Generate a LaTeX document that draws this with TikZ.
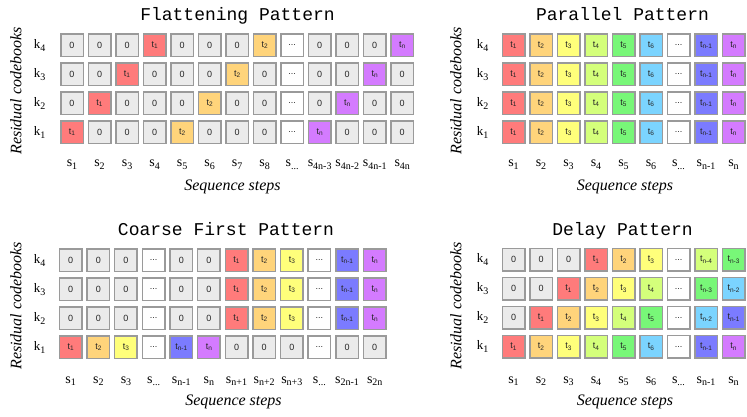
\documentclass[tikz,border=0pt]{standalone}
\usepackage{fontspec}
\setmainfont{Liberation Serif}
\setsansfont{Liberation Sans}
\setmonofont{Liberation Mono}
\definecolor{cgray}{HTML}{EBEBEB}
\definecolor{cbd}{HTML}{9A9A9A}
\definecolor{cred}{HTML}{FF7B7B}
\definecolor{corg}{HTML}{FFD47B}
\definecolor{cyel}{HTML}{FFFF7B}
\definecolor{clgr}{HTML}{D4FF7B}
\definecolor{cgrn}{HTML}{78F778}
\definecolor{clbl}{HTML}{7BD4FF}
\definecolor{cblu}{HTML}{7B7BFF}
\definecolor{cpur}{HTML}{D47BFF}
\newcommand\ellip{...}
\newcommand\tk[1]{t\raisebox{-0.3ex}{\fontsize{6.5}{7}\selectfont #1}}
\newcommand\lb[2]{#1\raisebox{-0.45ex}{\fontsize{10}{10}\selectfont #2}}
\newcommand\cellrow[5]{%
  \foreach \st/\tx [count=\i from 0] in {#5}{
    \node[cell,\st] (#1\i) at ({#2+#3*\i},#4) {\tx};
  }}
\newcommand\slabels[5]{%
  \foreach \tx [count=\i from 0] in {#5}{
    \node[slab] (#1\i) at ({#2+#3*\i},#4) {\lb{s}{\tx}};
  }}
\begin{document}
\begin{tikzpicture}[x=1pt,y=-1pt,
  cell/.style={draw=cbd, line width=1.5pt, minimum width=22.5pt, minimum height=22.5pt, inner sep=0pt, font=\sffamily\fontsize{9}{10}\selectfont, text=black!85},
  gz/.style={fill=cgray}, ge/.style={fill=white},
  g1/.style={fill=cred}, g2/.style={fill=corg}, g3/.style={fill=cyel},
  g4/.style={fill=clgr}, g5/.style={fill=cgrn}, g6/.style={fill=clbl},
  gm/.style={fill=cblu}, gn/.style={fill=cpur},
  ttl/.style={font=\ttfamily\fontsize{18}{20}\selectfont, anchor=base, inner sep=0pt},
  klab/.style={font=\fontsize{13}{15}\selectfont, anchor=base, inner sep=0pt},
  slab/.style={font=\fontsize{14}{16}\selectfont, anchor=base, inner sep=0pt},
  axl/.style={font=\itshape\fontsize{16}{18}\selectfont, inner sep=0pt},
]
\useasboundingbox (0,0) rectangle (747,417);

% ---------------- Flattening ----------------
\node[ttl] (tF) at (237.5,20.5) {Flattening Pattern};
\cellrow{F4-}{72}{27.52}{45.3}{gz/0,gz/0,gz/0,g1/{\tk{1}},gz/0,gz/0,gz/0,g2/{\tk{2}},ge/\ellip,gz/0,gz/0,gz/0,gn/{\tk{n}}}
\cellrow{F3-}{72}{27.52}{74.3}{gz/0,gz/0,g1/{\tk{1}},gz/0,gz/0,gz/0,g2/{\tk{2}},gz/0,ge/\ellip,gz/0,gz/0,gn/{\tk{n}},gz/0}
\cellrow{F2-}{72}{27.52}{103.3}{gz/0,g1/{\tk{1}},gz/0,gz/0,gz/0,g2/{\tk{2}},gz/0,gz/0,ge/\ellip,gz/0,gn/{\tk{n}},gz/0,gz/0}
\cellrow{F1-}{72}{27.52}{132.3}{g1/{\tk{1}},gz/0,gz/0,gz/0,g2/{\tk{2}},gz/0,gz/0,gz/0,ge/\ellip,gn/{\tk{n}},gz/0,gz/0,gz/0}
\node[klab] (Fk4) at (39.5,48.5) {\lb{k}{4}};
\node[klab] (Fk3) at (39.5,77.5) {\lb{k}{3}};
\node[klab] (Fk2) at (39.5,106.5) {\lb{k}{2}};
\node[klab] (Fk1) at (39.5,135.5) {\lb{k}{1}};
\slabels{Fs}{72}{27.52}{167}{1,2,3,4,5,6,7,8,\ellip,4n-3,4n-2,4n-1,4n}
\node[axl,rotate=90] (Fy) at (16,91) {Residual codebooks};
\node[axl,anchor=base] (Fx) at (232.5,190) {Sequence steps};

% ---------------- Parallel ----------------
\node[ttl] (tP) at (622.5,20.5) {Parallel Pattern};
\cellrow{P4-}{513.5}{27.5}{45.3}{g1/{\tk{1}},g2/{\tk{2}},g3/{\tk{3}},g4/{\tk{4}},g5/{\tk{5}},g6/{\tk{6}},ge/\ellip,gm/{\tk{n-1}},gn/{\tk{n}}}
\cellrow{P3-}{513.5}{27.5}{74.3}{g1/{\tk{1}},g2/{\tk{2}},g3/{\tk{3}},g4/{\tk{4}},g5/{\tk{5}},g6/{\tk{6}},ge/\ellip,gm/{\tk{n-1}},gn/{\tk{n}}}
\cellrow{P2-}{513.5}{27.5}{103.3}{g1/{\tk{1}},g2/{\tk{2}},g3/{\tk{3}},g4/{\tk{4}},g5/{\tk{5}},g6/{\tk{6}},ge/\ellip,gm/{\tk{n-1}},gn/{\tk{n}}}
\cellrow{P1-}{513.5}{27.5}{132.3}{g1/{\tk{1}},g2/{\tk{2}},g3/{\tk{3}},g4/{\tk{4}},g5/{\tk{5}},g6/{\tk{6}},ge/\ellip,gm/{\tk{n-1}},gn/{\tk{n}}}
\node[klab] (Pk4) at (482.5,48.5) {\lb{k}{4}};
\node[klab] (Pk3) at (482.5,77.5) {\lb{k}{3}};
\node[klab] (Pk2) at (482.5,106.5) {\lb{k}{2}};
\node[klab] (Pk1) at (482.5,135.5) {\lb{k}{1}};
\slabels{Ps}{513.5}{27.5}{167}{1,2,3,4,5,6,\ellip,n-1,n}
\node[axl,rotate=90] (Py) at (456,91) {Residual codebooks};
\node[axl,anchor=base] (Px) at (625,190) {Sequence steps};

% ---------------- Coarse First ----------------
\node[ttl] (tC) at (226,235.7) {Coarse First Pattern};
\cellrow{C4-}{70.7}{27.64}{260.3}{gz/0,gz/0,gz/0,ge/\ellip,gz/0,gz/0,g1/{\tk{1}},g2/{\tk{2}},g3/{\tk{3}},ge/\ellip,gm/{\tk{n-1}},gn/{\tk{n}}}
\cellrow{C3-}{70.7}{27.64}{289.3}{gz/0,gz/0,gz/0,ge/\ellip,gz/0,gz/0,g1/{\tk{1}},g2/{\tk{2}},g3/{\tk{3}},ge/\ellip,gm/{\tk{n-1}},gn/{\tk{n}}}
\cellrow{C2-}{70.7}{27.64}{318.3}{gz/0,gz/0,gz/0,ge/\ellip,gz/0,gz/0,g1/{\tk{1}},g2/{\tk{2}},g3/{\tk{3}},ge/\ellip,gm/{\tk{n-1}},gn/{\tk{n}}}
\cellrow{C1-}{70.7}{27.64}{347.3}{g1/{\tk{1}},g2/{\tk{2}},g3/{\tk{3}},ge/\ellip,gm/{\tk{n-1}},gn/{\tk{n}},gz/0,gz/0,gz/0,ge/\ellip,gz/0,gz/0}
\node[klab] (Ck4) at (39.5,263.5) {\lb{k}{4}};
\node[klab] (Ck3) at (39.5,292.5) {\lb{k}{3}};
\node[klab] (Ck2) at (39.5,321.5) {\lb{k}{2}};
\node[klab] (Ck1) at (39.5,350.5) {\lb{k}{1}};
\slabels{Cs}{70.7}{27.64}{383}{1,2,3,\ellip,n-1,n,n+1,n+2,n+3,\ellip,2n-1,2n}
\node[axl,rotate=90] (Cy) at (16,306) {Residual codebooks};
\node[axl,anchor=base] (Cx) at (233.5,405) {Sequence steps};

% ---------------- Delay ----------------
\node[ttl] (tD) at (622.5,235.7) {Delay Pattern};
\cellrow{D4-}{513.5}{27.5}{259.7}{gz/0,gz/0,gz/0,g1/{\tk{1}},g2/{\tk{2}},g3/{\tk{3}},ge/\ellip,g4/{\tk{n-4}},g5/{\tk{n-3}}}
\cellrow{D3-}{513.5}{27.5}{288.7}{gz/0,gz/0,g1/{\tk{1}},g2/{\tk{2}},g3/{\tk{3}},g4/{\tk{4}},ge/\ellip,g5/{\tk{n-3}},g6/{\tk{n-2}}}
\cellrow{D2-}{513.5}{27.5}{317.7}{gz/0,g1/{\tk{1}},g2/{\tk{2}},g3/{\tk{3}},g4/{\tk{4}},g5/{\tk{5}},ge/\ellip,g6/{\tk{n-2}},gm/{\tk{n-1}}}
\cellrow{D1-}{513.5}{27.5}{346.7}{g1/{\tk{1}},g2/{\tk{2}},g3/{\tk{3}},g4/{\tk{4}},g5/{\tk{5}},g6/{\tk{6}},ge/\ellip,gm/{\tk{n-1}},gn/{\tk{n}}}
\node[klab] (Dk4) at (482.5,262.9) {\lb{k}{4}};
\node[klab] (Dk3) at (482.5,291.9) {\lb{k}{3}};
\node[klab] (Dk2) at (482.5,320.9) {\lb{k}{2}};
\node[klab] (Dk1) at (482.5,349.9) {\lb{k}{1}};
\slabels{Ds}{513.5}{27.5}{383}{1,2,3,4,5,6,\ellip,n-1,n}
\node[axl,rotate=90] (Dy) at (456,306) {Residual codebooks};
\node[axl,anchor=base] (Dx) at (625,405) {Sequence steps};
\end{tikzpicture}
\end{document}
